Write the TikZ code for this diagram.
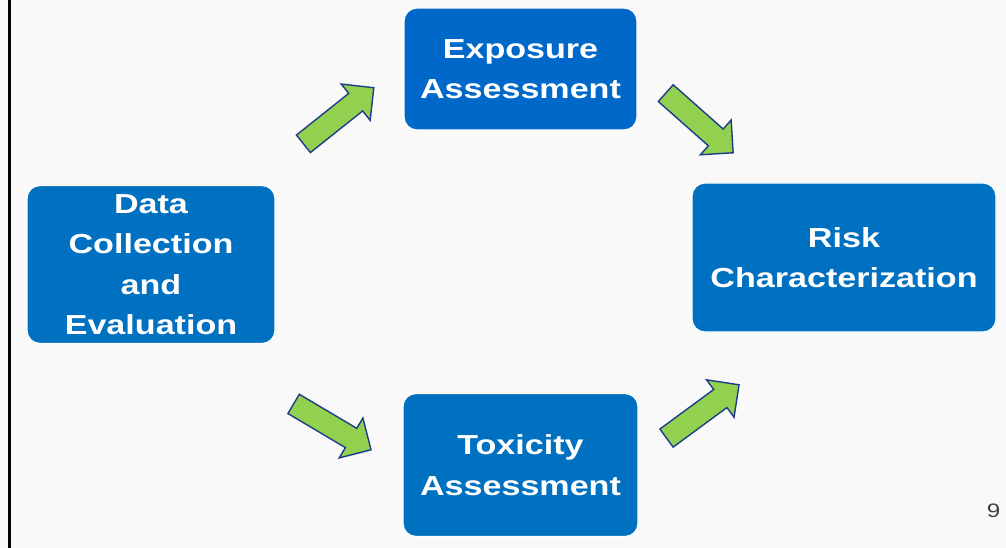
\documentclass[tikz,border=0pt]{standalone}
\usepackage{fontspec}
\usepackage{xcolor}
\usetikzlibrary{shapes.arrows}
\usetikzlibrary{positioning}
\newfontfamily\boxfont{Liberation Sans}[FakeStretch=1.24]
\definecolor{slidebg}{HTML}{F9F9F9}
\definecolor{boxblue}{HTML}{0070C0}
\definecolor{expblue}{HTML}{0068C8}
\definecolor{arrowgreen}{HTML}{92D050}
\definecolor{arrowline}{HTML}{1F3C88}
\tikzset{
	stagebox/.style={fill=boxblue, draw=white, line width=1.2pt, rounded corners=13pt,
		text=white, align=center, inner sep=0pt,
		font=\boxfont\bfseries\fontsize{27.5}{40.5}\selectfont},
	fatarrow/.style={single arrow, fill=arrowgreen, draw=arrowline, line width=1.4pt,
		inner xsep=0pt, inner ysep=10.5pt, minimum height=90pt,
		single arrow head extend=12pt, single arrow tip angle=90}
}
\begin{document}
\begin{tikzpicture}[x=1pt,y=-1pt]
					% Background
					\fill[slidebg] (0,0) rectangle (1006,548);
					\useasboundingbox (0,0) rectangle (1006,548);
					\draw[black, line width=3pt] (9.5,0) -- (9.5,548);
					
					% Stages
					\node[stagebox, minimum width=248pt, minimum height=158pt] (data) at (151,264.5) {Data\\Collection\\and\\Evaluation};
					\node[stagebox, fill=expblue, minimum width=233pt, minimum height=122pt] (exposure) at (520.5,69) {Exposure\\Assessment};
					\node[stagebox, minimum width=235pt, minimum height=143pt] (toxicity) at (520.5,465) {Toxicity\\Assessment};
					\node[stagebox, minimum width=304pt, minimum height=149pt] (risk) at (844,257.5) {Risk\\Characterization};
					
					% Arrow ends
					\coordinate (dtoe) at (297.5,148.5);
					\coordinate (etod) at (371,90);
					\coordinate (etor) at (660.5,88.5);
					\coordinate (rtoe) at (730,150);
					\coordinate (dtot) at (287,400);
					\coordinate (ttod) at (368,448);
					\coordinate (ttor) at (660.5,442.5);
					\coordinate (rtot) at (736,387);
					
					% Arrows
					\foreach \s/\t in {dtoe/etod, etor/rtoe, dtot/ttod, ttor/rtot} {
						\path (\s) -- node[fatarrow, sloped] {} (\t);
					}
					
					% Page number
					\node[text=black!75, font=\boxfont\fontsize{19.5}{20}\selectfont] (page) at (993.5,511) {9};
				\end{tikzpicture}
\end{document}
